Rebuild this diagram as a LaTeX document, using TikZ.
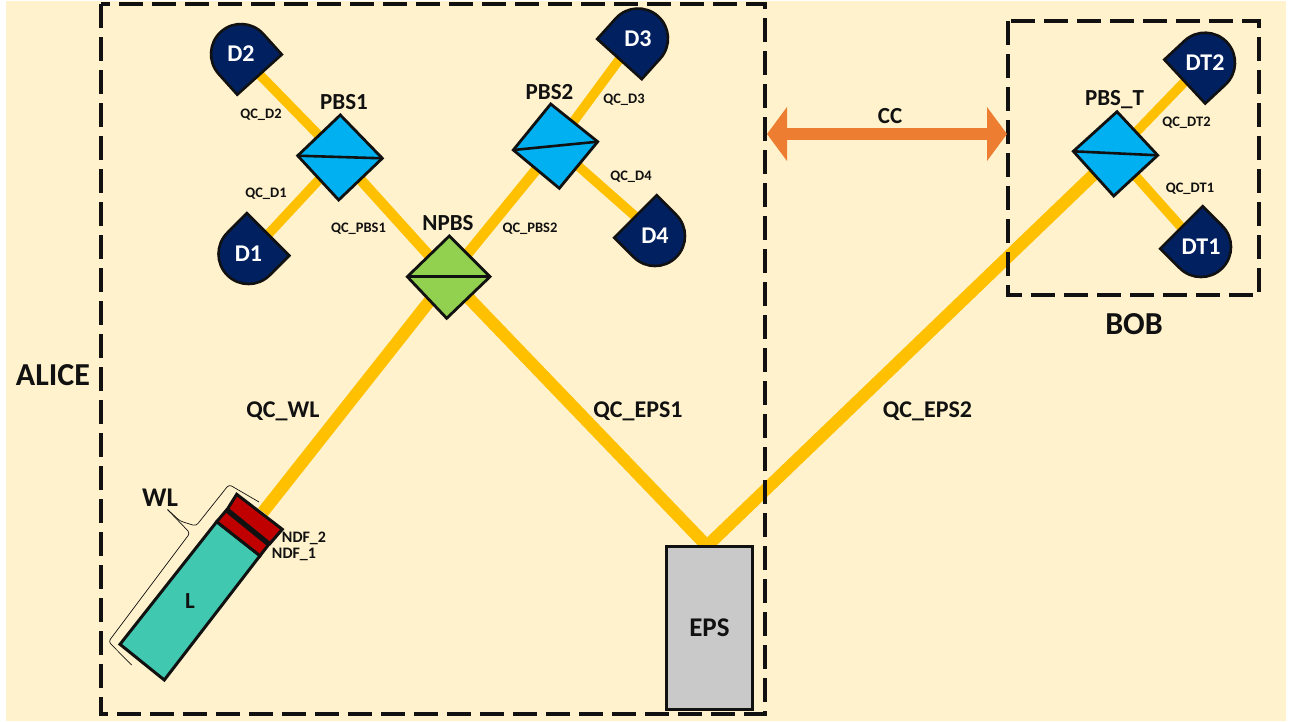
\documentclass[tikz,border=0pt]{standalone}
\usepackage{fontspec}
\setmainfont{Carlito}
\usetikzlibrary{arrows.meta,calc}
\pgfdeclarelayer{backdrop}\pgfdeclarelayer{bg}\pgfsetlayers{backdrop,bg,main}
\definecolor{cream}{HTML}{FFF2CC}
\definecolor{beamc}{HTML}{FFC000}
\definecolor{pbsc}{HTML}{00B0F0}
\definecolor{npbsc}{HTML}{92D050}
\definecolor{detc}{HTML}{002060}
\definecolor{cco}{HTML}{ED7D31}
\definecolor{lasc}{HTML}{40C9B0}
\definecolor{ndfc}{HTML}{C00000}
\definecolor{epsc}{HTML}{C9C9C9}
\definecolor{ink}{HTML}{111111}
\tikzset{
 x=1pt,y=1pt,
 beam/.style={draw=beamc,line width=9.5pt},
 longbeam/.style={draw=beamc,line width=12.3pt},
 dashbox/.style={draw=ink,line width=3.1pt,dash pattern=on 24pt off 9pt},
 cube/.style={draw=ink,line width=2.8pt,line join=miter},
 split/.style={draw=ink,line width=2.6pt},
 dethead/.style={draw=ink,fill=detc,line width=2.6pt,line join=miter},
 dettext/.style={text=white,font=\bfseries\fontsize{24}{24}\selectfont,inner sep=0pt},
 big/.style={font=\bfseries\fontsize{23}{23}\selectfont,inner sep=0pt,text=ink},
 chan/.style={font=\bfseries\fontsize{24}{24}\selectfont,inner sep=0pt,text=ink},
 huge/.style={font=\bfseries\fontsize{32}{32}\selectfont,inner sep=0pt,text=ink},
 small/.style={font=\bfseries\fontsize{14.5}{14.5}\selectfont,inner sep=0pt,text=ink},
 mid/.style={font=\bfseries\fontsize{16}{16}\selectfont,inner sep=0pt,text=ink},
 hull/.style={draw=ink,line width=3pt,line join=miter},
}
\newcommand\detector[5]{%
 \begin{scope}[shift={(#2,-#3)},rotate=#4]
 \path[dethead] (27.7,-30) -- (27.7,30) -- (0,30) arc (90:270:30) -- cycle;
 \end{scope}
 \coordinate (#1port) at ($(#2,-#3)+(#4:27)$);
 \node[dettext] (#1) at (#2,-#3) {#5};
}
\begin{document}
\begin{tikzpicture}
\useasboundingbox (0,0) rectangle (1297,-721);
\begin{pgfonlayer}{backdrop}
\fill[white] (0,0) rectangle (1297,-721);
\fill[cream] (6,-1) rectangle (1286,-721);
\end{pgfonlayer}

% detectors
\detector{Dtwo}{241}{54}{-48}{D2}
\detector{Done}{248.5}{254}{45}{D1}
\detector{Dthree}{638}{38.5}{228}{D3}
\detector{Dfour}{655}{236}{135}{D4}
\detector{DTtwo}{1205}{62.7}{223}{DT2}
\detector{DTone}{1201}{247}{135}{DT1}

% beam splitter cubes
\coordinate (PBSa) at (340,-157);
\coordinate (PBSb) at (555.5,-146);
\coordinate (PBST) at (1115.5,-153.5);
\coordinate (NPBSc) at (448.5,-277);
\path[cube,fill=pbsc] (340.3,-115) -- (382.3,-158.3) -- (338.7,-200) -- (297.7,-155.7) -- cycle;
\path[split] (297.7,-155.7) -- (382.3,-158.3);
\path[cube,fill=pbsc] (550.7,-104) -- (597.7,-141.7) -- (559.3,-188.3) -- (513.3,-150) -- cycle;
\path[split] (513.3,-150) -- (597.7,-141.7);
\path[cube,fill=pbsc] (1117,-111.7) -- (1157.7,-155.3) -- (1113.7,-196) -- (1073.3,-151.3) -- cycle;
\path[split] (1073.3,-151.3) -- (1157.7,-155.3);
\path[cube,fill=npbsc] (449.3,-236) -- (490,-276.7) -- (446.7,-318.3) -- (407.3,-276.7) -- cycle;
\path[split] (407.3,-276.7) -- (490,-276.7);

% source
\node[draw=ink,fill=epsc,line width=2.8pt,minimum width=86pt,minimum height=163pt,anchor=north west,inner sep=0pt,
  font=\bfseries\fontsize{27}{27}\selectfont,text=ink] (EPS) at (665,-545) {EPS};
\coordinate (EPStop) at (707,-546);

% weak laser
\path[hull,fill=lasc] (120,-644.3) -- (164.3,-680) -- (260,-555.7) -- (216.7,-521.7) -- cycle;
\path[hull,fill=ndfc] (216.7,-521.7) -- (260,-555.7) -- (268.3,-545) -- (226,-510.7) -- cycle;
\path[hull,fill=ndfc] (227.5,-509) -- (270,-543.5) -- (282.3,-529.3) -- (236.7,-494.3) -- cycle;
\coordinate (WLport) at (263,-512);
\node[big] (Ltext) at (190,-601) {L};

% WL bracket
\draw[ink,line width=0.7pt,rounded corners=3pt] (131.7,-665) -- (108.5,-641.7) -- (190,-533) -- (167.5,-509.5);
\draw[ink,line width=0.7pt,rounded corners=3pt] (167.5,-509.5) -- (180,-521) -- (196,-526) -- (229,-484.5) -- (259,-502);

% beams
\begin{pgfonlayer}{bg}
\draw[beam] (Dtwoport) -- (PBSa);
\draw[beam] (Doneport) -- (PBSa);
\draw[beam,line width=10.5pt] (PBSa) -- (NPBSc);
\draw[beam] (Dthreeport) -- (PBSb);
\draw[beam] (Dfourport) -- (PBSb);
\draw[beam,line width=10.5pt] (PBSb) -- (NPBSc);
\draw[longbeam] (WLport) -- (NPBSc);
\draw[longbeam] (NPBSc) -- (EPStop);
\draw[longbeam] (EPStop) -- (PBST);
\draw[beam] (PBST) -- (DTtwoport);
\draw[beam] (PBST) -- (DToneport);
\end{pgfonlayer}

% dashed enclosures
\path[dashbox] (101,-4) rectangle (765,-714);
\path[dashbox] (1008,-21) rectangle (1259,-295);

% classical channel
\coordinate (CCa) at (767,-134);
\coordinate (CCb) at (1007,-134);
\draw[cco,line width=12pt,{Triangle[length=20pt,width=53pt]}-{Triangle[length=20pt,width=53pt]}] (CCa) -- (CCb);

% labels
\node[big] (lPBSa) at (344,-102) {PBS1};
\node[big] (lPBSb) at (549.5,-92) {PBS2};
\node[big] (lPBST) at (1114.5,-100) {PBS\_T};
\node[big] (lNPBS) at (448,-223) {NPBS};
\node[big] (lCC) at (890,-116) {CC};
\node[chan,font=\bfseries\fontsize{27}{27}\selectfont] (lWL) at (160,-498) {WL};
\node[huge] (lBOB) at (1134,-324) {BOB};
\node[huge] (lALICE) at (53,-375) {ALICE};
\node[chan] (lQCWL) at (283,-411.5) {QC\_WL};
\node[chan] (lEPSa) at (638,-411.5) {QC\_EPS1};
\node[chan] (lEPSb) at (927.5,-411.5) {QC\_EPS2};
\node[small] (lD2) at (261,-115) {QC\_D2};
\node[small] (lD1) at (266,-194) {QC\_D1};
\node[small] (lP1) at (358.5,-229) {QC\_PBS1};
\node[small] (lP2) at (530,-229) {QC\_PBS2};
\node[small] (lD3) at (624,-100) {QC\_D3};
\node[small] (lD4) at (631,-177) {QC\_D4};
\node[small] (lDT2) at (1186.5,-123) {QC\_DT2};
\node[small] (lDT1) at (1190,-189) {QC\_DT1};
\node[mid] (lN2) at (304,-538.5) {NDF\_2};
\node[mid] (lN1) at (294,-554.5) {NDF\_1};
\end{tikzpicture}
\end{document}
